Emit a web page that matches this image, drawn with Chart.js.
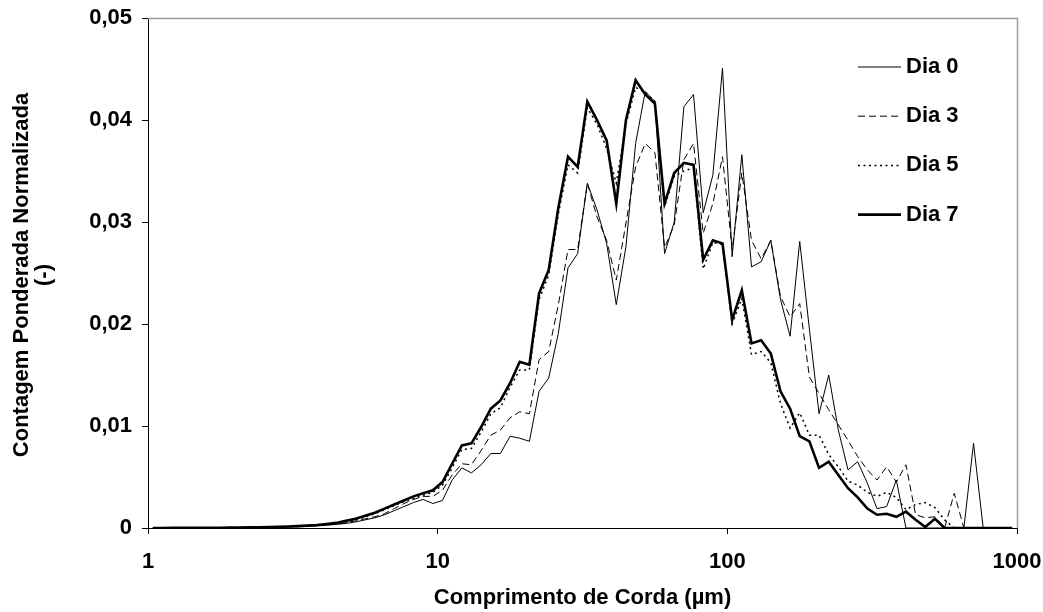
<!DOCTYPE html>
<html>
<head>
<meta charset="utf-8">
<script src="https://cdn.jsdelivr.net/npm/chart.js@4.4.1/dist/chart.umd.min.js"></script>
<style>
  html, body { margin: 0; padding: 0; background: #fff; }
  canvas { display: block; }
</style>
</head>
<body>
<canvas id="c" width="1043" height="612"></canvas>
<script>
// ---- data ----
const channelSizes = [
  1.039, 1.122, 1.212, 1.308, 1.413, 1.526, 1.647, 1.778, 1.920, 2.073,
  2.239, 2.417, 2.610, 2.818, 3.043, 3.286, 3.548, 3.831, 4.136, 4.467,
  4.823, 5.208, 5.623, 6.072, 6.556, 7.079, 7.644, 8.254, 8.913, 9.624,
  10.39, 11.22, 12.12, 13.08, 14.13, 15.26, 16.47, 17.78, 19.20, 20.73,
  22.39, 24.17, 26.10, 28.18, 30.43, 32.86, 35.48, 38.31, 41.36, 44.67,
  48.23, 52.08, 56.23, 60.72, 65.56, 70.79, 76.44, 82.54, 89.13, 96.24,
  103.9, 112.2, 121.2, 130.8, 141.3, 152.6, 164.7, 177.8, 192.0, 207.3,
  223.9, 241.7, 261.0, 281.8, 304.3, 328.6, 354.8, 383.1, 413.6, 446.7,
  482.3, 520.8, 562.3, 607.2, 655.6, 707.9, 764.4, 825.4, 891.3, 962.4
];

const dia0 = [
  0, 0, 0, 0.00001, 0.00001, 0.00001, 0.00002, 0.00002, 0.00003, 0.00003,
  0.00004, 0.00005, 0.00006, 0.00008, 0.0001, 0.00012, 0.00016, 0.0002, 0.00027, 0.00035,
  0.00045, 0.0006, 0.0008, 0.001, 0.0013, 0.0017, 0.0021, 0.0025, 0.0028, 0.0024,
  0.0027, 0.0047, 0.0059, 0.0054, 0.0062, 0.0073, 0.0073, 0.0090, 0.0088, 0.0085,
  0.0134, 0.0147, 0.0191, 0.0255, 0.0269, 0.0338, 0.0312, 0.0279, 0.0219, 0.0276,
  0.0377, 0.0428, 0.0418, 0.0269, 0.0300, 0.0413, 0.0425, 0.0309, 0.0346, 0.0451,
  0.0266, 0.0366, 0.0256, 0.0261, 0.0282, 0.0224, 0.0188, 0.0281, 0.0195, 0.0112,
  0.0150, 0.0096, 0.0057, 0.0065, 0.0044, 0.0019, 0.0021, 0.0047, 0, 0,
  0, 0, 0, 0, 0, 0.0083, 0, 0, 0, 0
];

const dia3 = [
  0, 0, 0.00001, 0.00001, 0.00001, 0.00002, 0.00002, 0.00003, 0.00003, 0.00004,
  0.00005, 0.00006, 0.00007, 0.00009, 0.00011, 0.00014, 0.00019, 0.00024, 0.00031, 0.0004,
  0.0005, 0.0007, 0.0009, 0.0011, 0.0014, 0.0019, 0.0024, 0.0028, 0.0031, 0.0031,
  0.0037, 0.0052, 0.0063, 0.0062, 0.0076, 0.0091, 0.0096, 0.0108, 0.0114, 0.0112,
  0.0165, 0.0173, 0.0219, 0.0273, 0.0273, 0.0338, 0.0305, 0.0282, 0.0243, 0.0299,
  0.0354, 0.0377, 0.0368, 0.0275, 0.0297, 0.0361, 0.0377, 0.0289, 0.0318, 0.0364,
  0.0273, 0.0348, 0.0282, 0.0264, 0.0282, 0.0227, 0.0207, 0.0220, 0.0148, 0.0132,
  0.0116, 0.0101, 0.0086, 0.0070, 0.0057, 0.0047, 0.0060, 0.0045, 0.0062, 0.0013,
  0.0010, 0.0011, 0, 0.0034, 0, 0, 0, 0, 0, 0
];

const dia5 = [
  0, 0, 0.00001, 0.00001, 0.00002, 0.00002, 0.00003, 0.00003, 0.00004, 0.00005,
  0.00005, 0.00007, 0.00008, 0.0001, 0.00013, 0.00017, 0.00022, 0.00028, 0.00037, 0.00047,
  0.0006, 0.0008, 0.0011, 0.0014, 0.0018, 0.0022, 0.0026, 0.0029, 0.0032, 0.0035,
  0.0042, 0.0059, 0.0077, 0.0078, 0.0094, 0.0112, 0.0118, 0.0138, 0.0155, 0.0155,
  0.0224, 0.0248, 0.0308, 0.0356, 0.0348, 0.0412, 0.0396, 0.0372, 0.0338, 0.0396,
  0.0432, 0.0427, 0.0418, 0.0315, 0.0345, 0.0350, 0.0353, 0.0254, 0.0280, 0.0278,
  0.0200, 0.0225, 0.0170, 0.0173, 0.0162, 0.0122, 0.0098, 0.0113, 0.0091, 0.0091,
  0.0072, 0.0060, 0.0046, 0.0042, 0.0035, 0.0031, 0.0035, 0.0030, 0.0018, 0.0023,
  0.0025, 0.0020, 0.0008, 0, 0, 0, 0, 0, 0, 0
];

const dia7 = [
  0, 0, 0.00001, 0.00001, 0.00002, 0.00002, 0.00003, 0.00003, 0.00004, 0.00005,
  0.00006, 0.00007, 0.00009, 0.00011, 0.00014, 0.00018, 0.00023, 0.0003, 0.0004, 0.0005,
  0.0007, 0.0009, 0.0012, 0.0015, 0.0019, 0.0023, 0.0027, 0.0031, 0.0034, 0.0037,
  0.0045, 0.0063, 0.0081, 0.0083, 0.0099, 0.0117, 0.0125, 0.0142, 0.0163, 0.0160,
  0.0230, 0.0253, 0.0314, 0.0364, 0.0354, 0.0418, 0.0400, 0.0380, 0.0318, 0.0400,
  0.0439, 0.0425, 0.0416, 0.0318, 0.0348, 0.0358, 0.0356, 0.0263, 0.0282, 0.0279,
  0.0204, 0.0233, 0.0181, 0.0184, 0.0171, 0.0134, 0.0117, 0.0090, 0.0085, 0.0059,
  0.0065, 0.0052, 0.0039, 0.0030, 0.0019, 0.0013, 0.0014, 0.0011, 0.0016, 0.0008,
  0.0001, 0.0009, 0, 0, 0, 0, 0, 0, 0, 0
];

const seriesNames = ['Dia 0', 'Dia 3', 'Dia 5', 'Dia 7'];
const xTickValues = [1, 10, 100, 1000];
const xTickLabels = ['1', '10', '100', '1000'];
const yTickValues = [0, 0.01, 0.02, 0.03, 0.04, 0.05];
const yTickLabels = ['0', '0,01', '0,02', '0,03', '0,04', '0,05'];
const xTitle = 'Comprimento de Corda (µm)';
const yTitle = ['Contagem Ponderada Normalizada', '(-)'];

// ---- styles ----
const FONT = 'bold 22px "Liberation Sans", Arial, Helvetica, sans-serif';
const seriesStyles = [
  { borderWidth: 1,   borderDash: [],       order: 3 },
  { borderWidth: 1,   borderDash: [7, 4],   order: 2 },
  { borderWidth: 1.5, borderDash: [2, 3.5], order: 1 },
  { borderWidth: 2.6, borderDash: [],       order: 0 }
];
const seriesValues = [dia0, dia3, dia5, dia7];

function toPoints(values) {
  return values.map((v, i) => ({ x: channelSizes[i], y: v }));
}

const datasets = seriesNames.map((name, i) => ({
  label: name,
  data: toPoints(seriesValues[i]),
  borderColor: '#000',
  backgroundColor: '#000',
  borderWidth: seriesStyles[i].borderWidth,
  borderDash: seriesStyles[i].borderDash,
  order: seriesStyles[i].order,
  pointRadius: 0,
  pointHoverRadius: 0,
  tension: 0,
  fill: false,
  borderJoinStyle: 'miter'
}));

function drawLabel(ctx, text, x, y, align, rotated) {
  ctx.save();
  ctx.translate(x, y);
  if (rotated) ctx.rotate(-Math.PI / 2);
  ctx.textAlign = align;
  ctx.textBaseline = 'middle';
  ctx.fillText(text, 0, 0);
  ctx.restore();
}

const bgPlugin = {
  id: 'bg',
  beforeDraw(chart) {
    const ctx = chart.ctx;
    ctx.save();
    ctx.fillStyle = '#fff';
    ctx.fillRect(0, 0, chart.width, chart.height);
    ctx.restore();
  }
};

const decorPlugin = {
  id: 'decor',
  afterDraw(chart) {
    const ctx = chart.ctx;
    const a = chart.chartArea;
    const xs = chart.scales.x, ys = chart.scales.y;
    ctx.save();
    // plot-area frame (top and right, grey)
    ctx.strokeStyle = '#9a9a9a';
    ctx.lineWidth = 1.5;
    ctx.beginPath();
    ctx.moveTo(a.left, a.top + 0.5);
    ctx.lineTo(a.right + 0.5, a.top + 0.5);
    ctx.lineTo(a.right + 0.5, a.bottom);
    ctx.stroke();

    ctx.fillStyle = '#000';
    ctx.font = FONT;
    yTickValues.forEach((v, i) => {
      drawLabel(ctx, yTickLabels[i], a.left - 16, ys.getPixelForValue(v), 'right', false);
    });
    xTickValues.forEach((v, i) => {
      drawLabel(ctx, xTickLabels[i], xs.getPixelForValue(v), a.bottom + 34, 'center', false);
    });
    drawLabel(ctx, xTitle, (a.left + a.right) / 2, a.bottom + 70, 'center', false);
    yTitle.forEach((line, i) => {
      drawLabel(ctx, line, 22 + i * 22, (a.top + a.bottom) / 2 + 2, 'center', true);
    });

    // legend
    const legendTop = 67, legendGap = 49.2;
    chart.data.datasets.forEach((ds, i) => {
      const y = legendTop + i * legendGap;
      ctx.save();
      ctx.strokeStyle = ds.borderColor;
      ctx.lineWidth = ds.borderWidth;
      ctx.setLineDash(ds.borderDash || []);
      ctx.beginPath();
      ctx.moveTo(858, y);
      ctx.lineTo(901, y);
      ctx.stroke();
      ctx.restore();
      drawLabel(ctx, ds.label, 906, y, 'left', false);
    });
    ctx.restore();
  }
};

new Chart(document.getElementById('c'), {
  type: 'line',
  data: { datasets },
  options: {
    responsive: false,
    devicePixelRatio: 1,
    animation: false,
    events: [],
    layout: { padding: { top: 18, right: 26, left: 0, bottom: 0 } },
    plugins: {
      legend: { display: false },
      tooltip: { enabled: false },
      title: { display: false }
    },
    scales: {
      x: {
        type: 'logarithmic',
        min: 1,
        max: 1000,
        afterBuildTicks(scale) { scale.ticks = xTickValues.map(v => ({ value: v })); },
        afterFit(scale) { scale.height = 84; },
        ticks: { display: false },
        grid: { drawOnChartArea: false, drawTicks: true, tickLength: 6, color: '#000', lineWidth: 1 },
        border: { display: true, color: '#000', width: 1 },
        title: { display: false }
      },
      y: {
        type: 'linear',
        min: 0,
        max: 0.05,
        afterBuildTicks(scale) { scale.ticks = yTickValues.map(v => ({ value: v })); },
        afterFit(scale) { scale.width = 148; },
        ticks: { display: false },
        grid: { drawOnChartArea: false, drawTicks: true, tickLength: 6, color: '#000', lineWidth: 1 },
        border: { display: true, color: '#000', width: 1 },
        title: { display: false }
      }
    }
  },
  plugins: [bgPlugin, decorPlugin]
});
</script>
</body>
</html>
